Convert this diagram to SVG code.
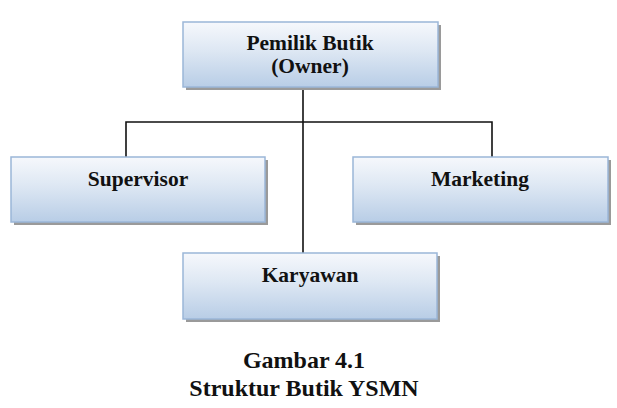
<svg xmlns="http://www.w3.org/2000/svg" width="617" height="408" viewBox="0 0 617 408">
<defs>
<linearGradient id="g" x1="0" y1="0" x2="0" y2="1">
<stop offset="0" stop-color="#f6f8fc"/>
<stop offset="0.45" stop-color="#dde7f3"/>
<stop offset="1" stop-color="#b8cde6"/>
</linearGradient>
</defs>
<style>
.sh{fill:#9a9a9a}
.bx{fill:url(#g);stroke:#9bb6d8;stroke-width:1.5}
.t{font-family:'Liberation Serif','DejaVu Serif',serif;font-weight:700;font-size:21.5px;fill:#111;text-anchor:middle}
.cap{font-size:24px}
.c{stroke:#111;stroke-width:1.6;fill:none}
</style>
<rect width="617" height="408" fill="#fff"/>
<g id="connectors">
<line class="c" x1="303" y1="87" x2="303" y2="253"/>
<polyline class="c" points="126,157 126,122 492,122 492,157"/>
</g>
<g id="owner">
<rect class="sh" x="186" y="25" width="255" height="65"/>
<rect class="bx" x="183" y="22" width="255" height="65"/>
<text class="t" x="310" y="50">Pemilik Butik</text>
<text class="t" x="310" y="73">(Owner)</text>
</g>
<g id="supervisor">
<rect class="sh" x="14" y="160" width="254" height="65"/>
<rect class="bx" x="11" y="157" width="254" height="65"/>
<text class="t" x="138" y="186">Supervisor</text>
</g>
<g id="marketing">
<rect class="sh" x="356" y="160" width="255" height="65"/>
<rect class="bx" x="353" y="157" width="255" height="65"/>
<text class="t" x="480" y="186">Marketing</text>
</g>
<g id="karyawan">
<rect class="sh" x="186" y="256" width="254" height="66"/>
<rect class="bx" x="183" y="253" width="254" height="66"/>
<text class="t" x="310" y="282">Karyawan</text>
</g>
<g id="caption">
<text class="t cap" x="304" y="368">Gambar 4.1</text>
<text class="t cap" x="304" y="396">Struktur Butik YSMN</text>
</g>
</svg>
